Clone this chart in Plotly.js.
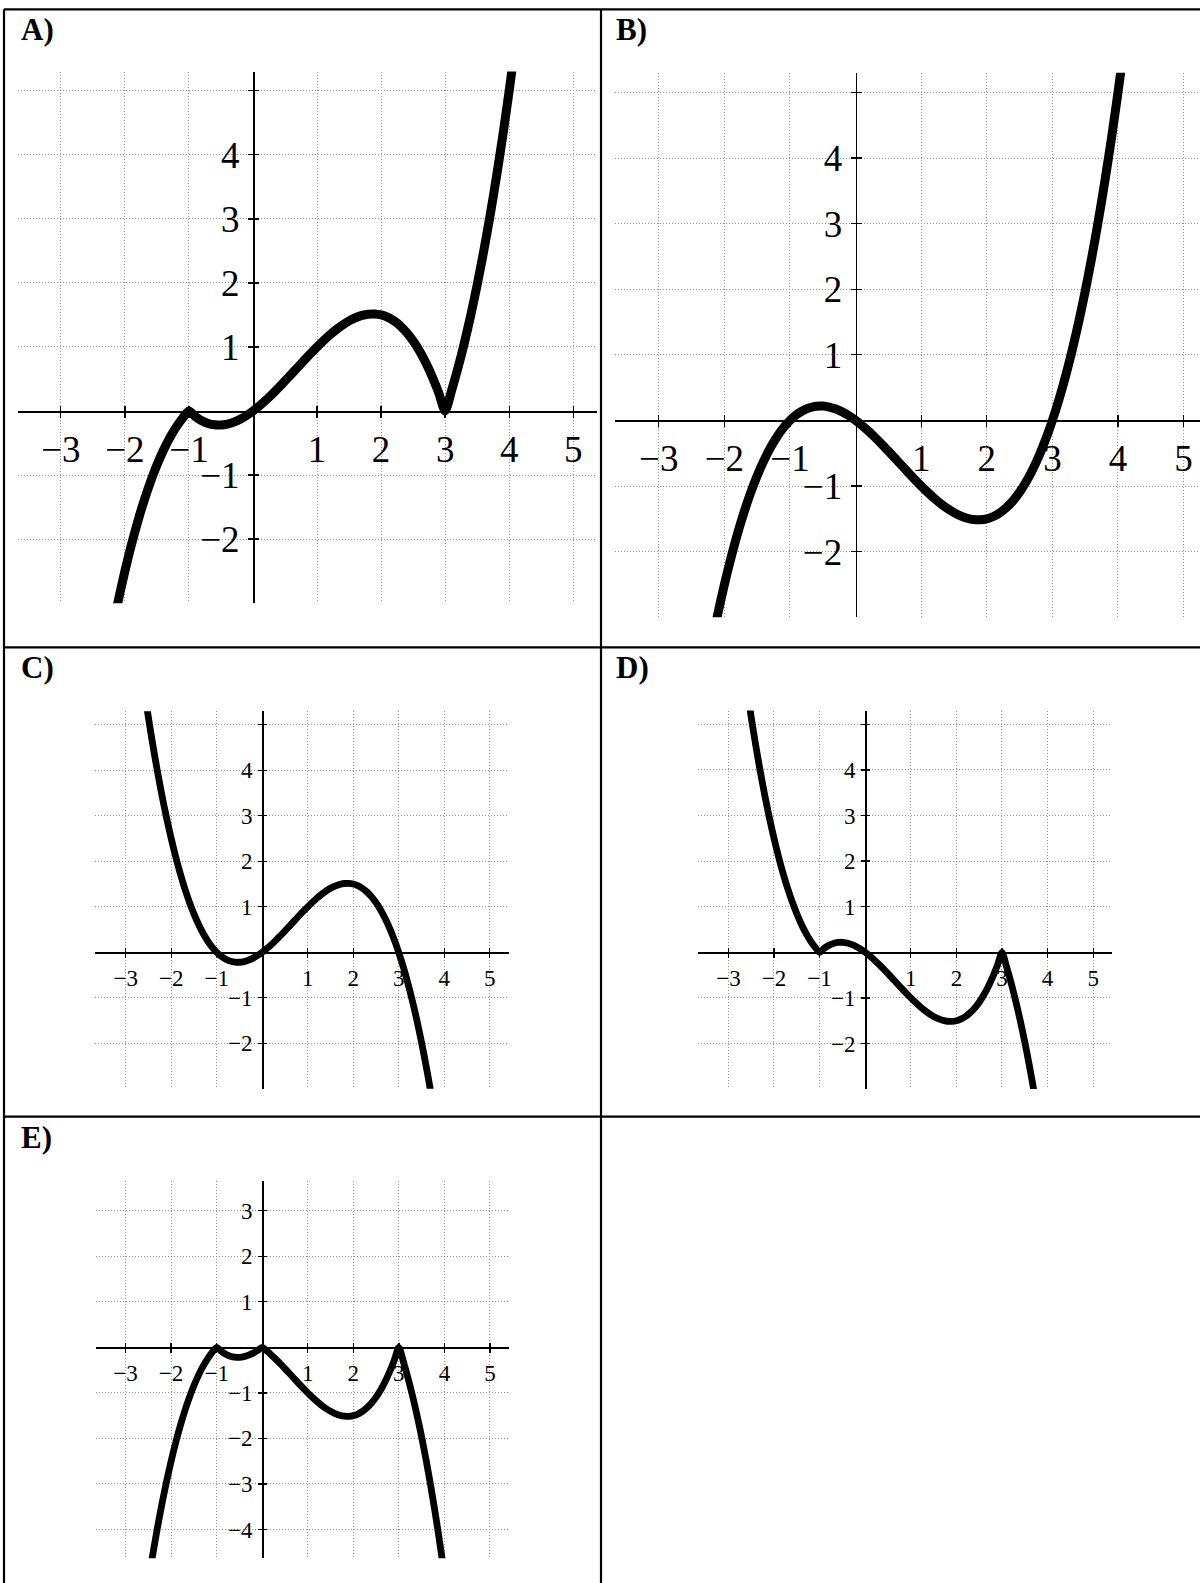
<!DOCTYPE html>
<html><head><meta charset="utf-8">
<script src="https://cdn.plot.ly/plotly-3.0.1.min.js"></script>
<style>html,body{margin:0;padding:0;background:#fff}#chart{width:1200px;height:1583px}</style>
</head><body><div id="chart"></div>
<script>
// sample abscissas (shared by all five graphs)
const xValues = [-2.6,-2.5,-2.4,-2.3,-2.2,-2.1,-2.0,-1.9,-1.8,-1.7,-1.6,-1.5,-1.4,-1.3,-1.2,-1.1,-1.0,
  -0.9,-0.8,-0.7,-0.6,-0.5,-0.4,-0.3,-0.2,-0.1,0,
  0.1,0.2,0.3,0.4,0.5,0.6,0.7,0.8,0.9,1.0,
  1.1,1.2,1.3,1.4,1.5,1.6,1.7,1.8,1.9,2.0,
  2.1,2.2,2.3,2.4,2.5,2.6,2.7,2.8,2.9,3.0,
  3.1,3.2,3.3,3.4,3.5,3.6,3.7,3.8,3.9,4.0,4.1];

const yA = [-5.824,-5.156,-4.536,-3.962,-3.432,-2.945,-2.5,-2.095,-1.728,-1.398,-1.104,-0.844,-0.616,-0.419,-0.252,-0.113,0,
  -0.088,-0.152,-0.194,-0.216,-0.219,-0.204,-0.173,-0.128,-0.070,0,
  0.080,0.168,0.263,0.364,0.469,0.576,0.684,0.792,0.898,1.0,
  1.097,1.188,1.271,1.344,1.406,1.456,1.492,1.512,1.515,1.5,
  1.465,1.408,1.328,1.224,1.094,0.936,0.749,0.532,0.283,0,
  0.318,0.672,1.064,1.496,1.969,2.484,3.043,3.648,4.300,5.0,5.750];

const yB = [-5.824,-5.156,-4.536,-3.962,-3.432,-2.945,-2.5,-2.095,-1.728,-1.398,-1.104,-0.844,-0.616,-0.419,-0.252,-0.113,0,
  0.088,0.152,0.194,0.216,0.219,0.204,0.173,0.128,0.070,0,
  -0.080,-0.168,-0.263,-0.364,-0.469,-0.576,-0.684,-0.792,-0.898,-1.0,
  -1.097,-1.188,-1.271,-1.344,-1.406,-1.456,-1.492,-1.512,-1.515,-1.5,
  -1.465,-1.408,-1.328,-1.224,-1.094,-0.936,-0.749,-0.532,-0.283,0,
  0.318,0.672,1.064,1.496,1.969,2.484,3.043,3.648,4.300,5.0,5.750];

const yC = [5.824,5.156,4.536,3.962,3.432,2.945,2.5,2.095,1.728,1.398,1.104,0.844,0.616,0.419,0.252,0.113,0,
  -0.088,-0.152,-0.194,-0.216,-0.219,-0.204,-0.173,-0.128,-0.070,0,
  0.080,0.168,0.263,0.364,0.469,0.576,0.684,0.792,0.898,1.0,
  1.097,1.188,1.271,1.344,1.406,1.456,1.492,1.512,1.515,1.5,
  1.465,1.408,1.328,1.224,1.094,0.936,0.749,0.532,0.283,0,
  -0.318,-0.672,-1.064,-1.496,-1.969,-2.484,-3.043,-3.648,-4.300,-5.0,-5.750];

const yD = [5.824,5.156,4.536,3.962,3.432,2.945,2.5,2.095,1.728,1.398,1.104,0.844,0.616,0.419,0.252,0.113,0,
  0.088,0.152,0.194,0.216,0.219,0.204,0.173,0.128,0.070,0,
  -0.080,-0.168,-0.263,-0.364,-0.469,-0.576,-0.684,-0.792,-0.898,-1.0,
  -1.097,-1.188,-1.271,-1.344,-1.406,-1.456,-1.492,-1.512,-1.515,-1.5,
  -1.465,-1.408,-1.328,-1.224,-1.094,-0.936,-0.749,-0.532,-0.283,0,
  -0.318,-0.672,-1.064,-1.496,-1.969,-2.484,-3.043,-3.648,-4.300,-5.0,-5.750];

const yE = [-5.824,-5.156,-4.536,-3.962,-3.432,-2.945,-2.5,-2.095,-1.728,-1.398,-1.104,-0.844,-0.616,-0.419,-0.252,-0.113,0,
  -0.088,-0.152,-0.194,-0.216,-0.219,-0.204,-0.173,-0.128,-0.070,0,
  -0.080,-0.168,-0.263,-0.364,-0.469,-0.576,-0.684,-0.792,-0.898,-1.0,
  -1.097,-1.188,-1.271,-1.344,-1.406,-1.456,-1.492,-1.512,-1.515,-1.5,
  -1.465,-1.408,-1.328,-1.224,-1.094,-0.936,-0.749,-0.532,-0.283,0,
  -0.318,-0.672,-1.064,-1.496,-1.969,-2.484,-3.043,-3.648,-4.300,-5.0,-5.750];

const panelLabels = ['A)','B)','C)','D)','E)'];
const xTickVals = [-3,-2,-1,1,2,3,4,5];
const xTickText = ['\u22123','\u22122','\u22121','1','2','3','4','5'];
const yTickValsAD = [-2,-1,1,2,3,4,5];
const yTickTextAD = ['\u22122','\u22121','1','2','3','4',''];
const yTickValsE = [-4,-3,-2,-1,1,2,3];
const yTickTextE = ['\u22124','\u22123','\u22122','\u22121','1','2','3'];

const W = 1200, H = 1583;
const SERIF = 'Liberation Serif';

// layout geometry (pixels): origin position, unit length, visible ranges, styles
const panels = [
  {ys:yA, ox:253,   oy:411,    unit:64.05, xr:[-3.67,5.37], yr:[-3,5.3],    yt:[yTickValsAD,yTickTextAD], lw:9,   fs:37, tl:5, lab:[19,10]},
  {ys:yB, ox:855.6, oy:420.4,  unit:65.6,  xr:[-3.67,5.25], yr:[-3,5.3],    yt:[yTickValsAD,yTickTextAD], lw:9,   fs:37, tl:5, lab:[614,10]},
  {ys:yC, ox:262.2, oy:952.3,  unit:45.5,  xr:[-3.67,5.42], yr:[-3,5.3],    yt:[yTickValsAD,yTickTextAD], lw:6.8, fs:23, tl:4, lab:[19,648]},
  {ys:yD, ox:865.2, oy:952.3,  unit:45.6,  xr:[-3.67,5.42], yr:[-3,5.3],    yt:[yTickValsAD,yTickTextAD], lw:6.8, fs:23, tl:4, lab:[614,648]},
  {ys:yE, ox:262.2, oy:1347.3, unit:45.55, xr:[-3.65,5.42], yr:[-4.63,3.65],yt:[yTickValsE,yTickTextE],   lw:6.8, fs:23, tl:4, lab:[19,1118]}
];

const data = [];
const layout = {
  width: W, height: H,
  margin: {l:0, r:0, t:0, b:0},
  paper_bgcolor: '#fff', plot_bgcolor: 'rgba(0,0,0,0)',
  showlegend: false,
  shapes: [], annotations: []
};

panels.forEach((p, i) => {
  const n = i + 1;
  const sfx = n === 1 ? '' : String(n);
  const osfx = String(n + 5);
  const left = p.ox + p.xr[0] * p.unit, right = p.ox + p.xr[1] * p.unit;
  const top = p.oy - p.yr[1] * p.unit, bottom = p.oy - p.yr[0] * p.unit;
  const xdom = [left / W, Math.min(1, right / W)];
  const ydom = [1 - bottom / H, 1 - top / H];
  const xPos = ydom[0] + (0 - p.yr[0]) / (p.yr[1] - p.yr[0]) * (ydom[1] - ydom[0]);
  const yPos = xdom[0] + (0 - p.xr[0]) / (p.xr[1] - p.xr[0]) * (xdom[1] - xdom[0]);

  data.push({
    x: xValues, y: p.ys, xaxis: 'x' + sfx, yaxis: 'y' + sfx,
    type: 'scatter', mode: 'lines',
    line: {color: '#000', width: p.lw, shape: 'spline', smoothing: 0.7},
    hoverinfo: 'skip'
  });
  // empty helper traces so the overlay (inside-tick) axes get drawn
  data.push({x:[null], y:[null], xaxis:'x' + osfx, yaxis:'y' + sfx, type:'scatter', mode:'lines', hoverinfo:'skip'});
  data.push({x:[null], y:[null], xaxis:'x' + sfx, yaxis:'y' + osfx, type:'scatter', mode:'lines', hoverinfo:'skip'});

  const common = {
    ticks: 'outside', ticklen: p.tl, tickwidth: 1.3, tickcolor: '#000',
    showline: true, linecolor: '#000', linewidth: 1.6,
    showgrid: true, gridcolor: '#8f8f8f', gridwidth: 1, griddash: '1px,2px',
    zeroline: false, fixedrange: true,
    tickfont: {family: SERIF, size: p.fs, color: '#000'},
    tickmode: 'array'
  };
  layout['xaxis' + sfx] = Object.assign({}, common, {
    domain: xdom, range: p.xr, anchor: 'free', position: xPos, side: 'bottom',
    tickvals: xTickVals, ticktext: xTickText
  });
  layout['yaxis' + sfx] = Object.assign({}, common, {
    domain: ydom, range: p.yr, anchor: 'free', position: yPos, side: 'left',
    tickvals: p.yt[0], ticktext: p.yt[1], ticklabelstandoff: 1
  });
  const ov = {
    ticks: 'inside', ticklen: p.tl, tickwidth: 1.3, tickcolor: '#000',
    showline: false, showgrid: false, zeroline: false, showticklabels: false,
    fixedrange: true, tickmode: 'array'
  };
  layout['xaxis' + osfx] = Object.assign({}, ov, {
    overlaying: 'x' + sfx, range: p.xr, anchor: 'free', position: xPos, side: 'bottom',
    tickvals: xTickVals
  });
  layout['yaxis' + osfx] = Object.assign({}, ov, {
    overlaying: 'y' + sfx, range: p.yr, anchor: 'free', position: yPos, side: 'left',
    tickvals: p.yt[0]
  });

  layout.annotations.push({
    xref: 'paper', yref: 'paper', x: p.lab[0] / W, y: 1 - p.lab[1] / H,
    xanchor: 'left', yanchor: 'top', showarrow: false,
    text: '<b>' + panelLabels[i] + '</b>',
    font: {family: SERIF, size: 31, color: '#000'}
  });
});

// table rules
const rule = (x0, y0, x1, y1) => ({
  type: 'line', xref: 'paper', yref: 'paper', layer: 'above',
  x0: x0 / W, y0: 1 - y0 / H, x1: x1 / W, y1: 1 - y1 / H,
  line: {color: '#000', width: 2.2}
});
layout.shapes.push(rule(4, 9.3, 1200, 9.3));
layout.shapes.push(rule(4, 9.3, 4, 1583));
layout.shapes.push(rule(601, 9.3, 601, 1583));
layout.shapes.push(rule(4, 647.3, 1200, 647.3));
layout.shapes.push(rule(4, 1116.7, 1200, 1116.7));

Plotly.newPlot('chart', data, layout, {staticPlot: true, displayModeBar: false});
</script>
</body></html>
